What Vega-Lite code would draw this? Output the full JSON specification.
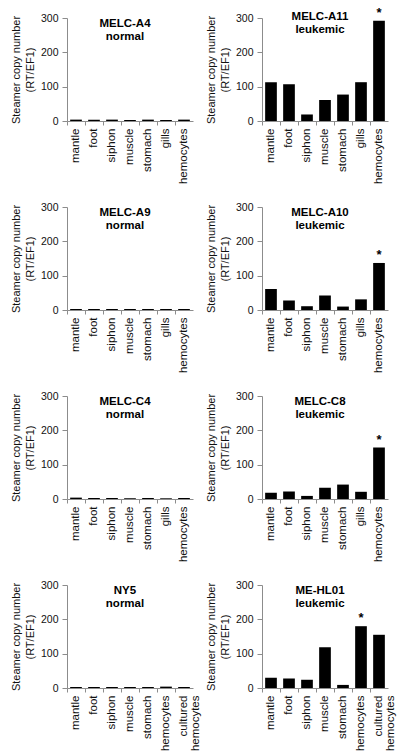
{
  "$schema": "https://vega.github.io/schema/vega-lite/v6.json",
  "background": "white",
  "padding": {"left": 10, "top": 6, "right": 5, "bottom": 5},
  "datasets": {
    "d": [
      {"panel": "A4", "tissue": "mantle", "value": 4, "star": ""},
      {"panel": "A4", "tissue": "foot", "value": 4, "star": ""},
      {"panel": "A4", "tissue": "siphon", "value": 4, "star": ""},
      {"panel": "A4", "tissue": "muscle", "value": 3, "star": ""},
      {"panel": "A4", "tissue": "stomach", "value": 4, "star": ""},
      {"panel": "A4", "tissue": "gills", "value": 3, "star": ""},
      {"panel": "A4", "tissue": "hemocytes", "value": 4, "star": ""},
      {"panel": "A11", "tissue": "mantle", "value": 113, "star": ""},
      {"panel": "A11", "tissue": "foot", "value": 107, "star": ""},
      {"panel": "A11", "tissue": "siphon", "value": 19, "star": ""},
      {"panel": "A11", "tissue": "muscle", "value": 61, "star": ""},
      {"panel": "A11", "tissue": "stomach", "value": 77, "star": ""},
      {"panel": "A11", "tissue": "gills", "value": 113, "star": ""},
      {"panel": "A11", "tissue": "hemocytes", "value": 292, "star": "*"},
      {"panel": "A9", "tissue": "mantle", "value": 3, "star": ""},
      {"panel": "A9", "tissue": "foot", "value": 3, "star": ""},
      {"panel": "A9", "tissue": "siphon", "value": 3, "star": ""},
      {"panel": "A9", "tissue": "muscle", "value": 3, "star": ""},
      {"panel": "A9", "tissue": "stomach", "value": 3, "star": ""},
      {"panel": "A9", "tissue": "gills", "value": 3, "star": ""},
      {"panel": "A9", "tissue": "hemocytes", "value": 3, "star": ""},
      {"panel": "A10", "tissue": "mantle", "value": 61, "star": ""},
      {"panel": "A10", "tissue": "foot", "value": 28, "star": ""},
      {"panel": "A10", "tissue": "siphon", "value": 11, "star": ""},
      {"panel": "A10", "tissue": "muscle", "value": 42, "star": ""},
      {"panel": "A10", "tissue": "stomach", "value": 10, "star": ""},
      {"panel": "A10", "tissue": "gills", "value": 31, "star": ""},
      {"panel": "A10", "tissue": "hemocytes", "value": 137, "star": "*"},
      {"panel": "C4", "tissue": "mantle", "value": 4, "star": ""},
      {"panel": "C4", "tissue": "foot", "value": 3, "star": ""},
      {"panel": "C4", "tissue": "siphon", "value": 3, "star": ""},
      {"panel": "C4", "tissue": "muscle", "value": 2, "star": ""},
      {"panel": "C4", "tissue": "stomach", "value": 3, "star": ""},
      {"panel": "C4", "tissue": "gills", "value": 2, "star": ""},
      {"panel": "C4", "tissue": "hemocytes", "value": 3, "star": ""},
      {"panel": "C8", "tissue": "mantle", "value": 18, "star": ""},
      {"panel": "C8", "tissue": "foot", "value": 22, "star": ""},
      {"panel": "C8", "tissue": "siphon", "value": 9, "star": ""},
      {"panel": "C8", "tissue": "muscle", "value": 33, "star": ""},
      {"panel": "C8", "tissue": "stomach", "value": 42, "star": ""},
      {"panel": "C8", "tissue": "gills", "value": 21, "star": ""},
      {"panel": "C8", "tissue": "hemocytes", "value": 150, "star": "*"},
      {"panel": "NY5", "tissue": "mantle", "value": 3, "star": ""},
      {"panel": "NY5", "tissue": "foot", "value": 3, "star": ""},
      {"panel": "NY5", "tissue": "siphon", "value": 3, "star": ""},
      {"panel": "NY5", "tissue": "muscle", "value": 3, "star": ""},
      {"panel": "NY5", "tissue": "stomach", "value": 3, "star": ""},
      {"panel": "NY5", "tissue": "hemocytes", "value": 4, "star": ""},
      {"panel": "NY5", "tissue": "cultured hemocytes", "value": 3, "star": ""},
      {"panel": "HL01", "tissue": "mantle", "value": 30, "star": ""},
      {"panel": "HL01", "tissue": "foot", "value": 28, "star": ""},
      {"panel": "HL01", "tissue": "siphon", "value": 24, "star": ""},
      {"panel": "HL01", "tissue": "muscle", "value": 119, "star": ""},
      {"panel": "HL01", "tissue": "stomach", "value": 9, "star": ""},
      {"panel": "HL01", "tissue": "hemocytes", "value": 180, "star": "*"},
      {"panel": "HL01", "tissue": "cultured hemocytes", "value": 155, "star": ""}
    ]
  },
  "data": {"name": "d"},
  "columns": 2,
  "spacing": {"row": 18, "column": 4},
  "config": {
    "font": "Liberation Sans",
    "view": {"stroke": null},
    "title": {"font": "Liberation Sans", "fontSize": 11.5, "fontWeight": "bold", "color": "#000", "anchor": "middle", "baseline": "top", "offset": -29, "dx": -5, "lineHeight": 13},
    "axis": {"grid": false, "domainColor": "#8c8c8c", "tickColor": "#8c8c8c", "labelColor": "#111", "titleColor": "#111", "labelFont": "Liberation Sans", "titleFont": "Liberation Sans"},
    "axisX": {"title": null, "labelAngle": -90, "labelFontSize": 11.5, "bandPosition": 0, "tickSize": 4, "labelPadding": 3, "labelExpr": "datum.value == 'cultured hemocytes' ? ['cultured', 'hemocytes'] : datum.value", "labelLineHeight": 11.5},
    "axisY": {"values": [0, 100, 200, 300], "labelFontSize": 10.5, "tickSize": 5, "labelPadding": 4, "titleFontSize": 11, "titleFontWeight": "normal", "titlePadding": 5, "titleLineHeight": 14}
  },
  "concat": [
    {"title": {"text": ["MELC-A4", "normal"]}, "width": 126, "height": 103, "transform": [{"filter": "datum.panel == 'A4'"}],
     "encoding": {"x": {"field": "tissue", "type": "nominal", "sort": null, "scale": {"padding": 0}}, "y": {"field": "value", "type": "quantitative", "scale": {"domain": [0, 300]}, "title": ["Steamer copy number", "(RT/EF1)"]}},
     "layer": [{"mark": {"type": "bar", "color": "#000", "width": {"band": 0.65}}}, {"mark": {"type": "text", "baseline": "bottom", "dy": -1, "fontSize": 13, "fontWeight": "bold"}, "encoding": {"text": {"field": "star"}}}]},
    {"title": {"text": ["MELC-A11", "leukemic"]}, "width": 126, "height": 103, "transform": [{"filter": "datum.panel == 'A11'"}],
     "encoding": {"x": {"field": "tissue", "type": "nominal", "sort": null, "scale": {"padding": 0}}, "y": {"field": "value", "type": "quantitative", "scale": {"domain": [0, 300]}, "title": ["Steamer copy number", "(RT/EF1)"]}},
     "layer": [{"mark": {"type": "bar", "color": "#000", "width": {"band": 0.65}}}, {"mark": {"type": "text", "baseline": "bottom", "dy": -1, "fontSize": 13, "fontWeight": "bold"}, "encoding": {"text": {"field": "star"}}}]},
    {"title": {"text": ["MELC-A9", "normal"]}, "width": 126, "height": 103, "transform": [{"filter": "datum.panel == 'A9'"}],
     "encoding": {"x": {"field": "tissue", "type": "nominal", "sort": null, "scale": {"padding": 0}}, "y": {"field": "value", "type": "quantitative", "scale": {"domain": [0, 300]}, "title": ["Steamer copy number", "(RT/EF1)"]}},
     "layer": [{"mark": {"type": "bar", "color": "#000", "width": {"band": 0.65}}}, {"mark": {"type": "text", "baseline": "bottom", "dy": -1, "fontSize": 13, "fontWeight": "bold"}, "encoding": {"text": {"field": "star"}}}]},
    {"title": {"text": ["MELC-A10", "leukemic"]}, "width": 126, "height": 103, "transform": [{"filter": "datum.panel == 'A10'"}],
     "encoding": {"x": {"field": "tissue", "type": "nominal", "sort": null, "scale": {"padding": 0}}, "y": {"field": "value", "type": "quantitative", "scale": {"domain": [0, 300]}, "title": ["Steamer copy number", "(RT/EF1)"]}},
     "layer": [{"mark": {"type": "bar", "color": "#000", "width": {"band": 0.65}}}, {"mark": {"type": "text", "baseline": "bottom", "dy": -1, "fontSize": 13, "fontWeight": "bold"}, "encoding": {"text": {"field": "star"}}}]},
    {"title": {"text": ["MELC-C4", "normal"]}, "width": 126, "height": 103, "transform": [{"filter": "datum.panel == 'C4'"}],
     "encoding": {"x": {"field": "tissue", "type": "nominal", "sort": null, "scale": {"padding": 0}}, "y": {"field": "value", "type": "quantitative", "scale": {"domain": [0, 300]}, "title": ["Steamer copy number", "(RT/EF1)"]}},
     "layer": [{"mark": {"type": "bar", "color": "#000", "width": {"band": 0.65}}}, {"mark": {"type": "text", "baseline": "bottom", "dy": -1, "fontSize": 13, "fontWeight": "bold"}, "encoding": {"text": {"field": "star"}}}]},
    {"title": {"text": ["MELC-C8", "leukemic"]}, "width": 126, "height": 103, "transform": [{"filter": "datum.panel == 'C8'"}],
     "encoding": {"x": {"field": "tissue", "type": "nominal", "sort": null, "scale": {"padding": 0}}, "y": {"field": "value", "type": "quantitative", "scale": {"domain": [0, 300]}, "title": ["Steamer copy number", "(RT/EF1)"]}},
     "layer": [{"mark": {"type": "bar", "color": "#000", "width": {"band": 0.65}}}, {"mark": {"type": "text", "baseline": "bottom", "dy": -1, "fontSize": 13, "fontWeight": "bold"}, "encoding": {"text": {"field": "star"}}}]},
    {"title": {"text": ["NY5", "normal"]}, "width": 126, "height": 103, "transform": [{"filter": "datum.panel == 'NY5'"}],
     "encoding": {"x": {"field": "tissue", "type": "nominal", "sort": null, "scale": {"padding": 0}}, "y": {"field": "value", "type": "quantitative", "scale": {"domain": [0, 300]}, "title": ["Steamer copy number", "(RT/EF1)"]}},
     "layer": [{"mark": {"type": "bar", "color": "#000", "width": {"band": 0.65}}}, {"mark": {"type": "text", "baseline": "bottom", "dy": -1, "fontSize": 13, "fontWeight": "bold"}, "encoding": {"text": {"field": "star"}}}]},
    {"title": {"text": ["ME-HL01", "leukemic"]}, "width": 126, "height": 103, "transform": [{"filter": "datum.panel == 'HL01'"}],
     "encoding": {"x": {"field": "tissue", "type": "nominal", "sort": null, "scale": {"padding": 0}}, "y": {"field": "value", "type": "quantitative", "scale": {"domain": [0, 300]}, "title": ["Steamer copy number", "(RT/EF1)"]}},
     "layer": [{"mark": {"type": "bar", "color": "#000", "width": {"band": 0.65}}}, {"mark": {"type": "text", "baseline": "bottom", "dy": -1, "fontSize": 13, "fontWeight": "bold"}, "encoding": {"text": {"field": "star"}}}]}
  ]
}
